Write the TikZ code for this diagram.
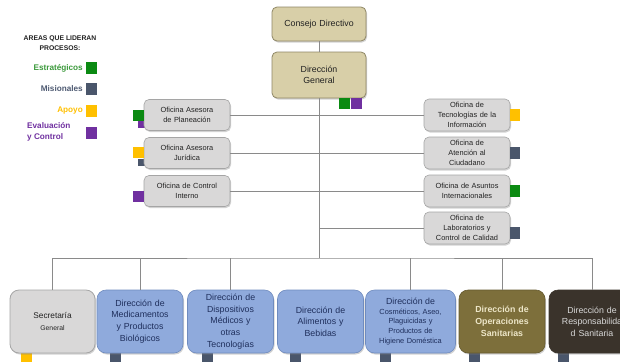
\documentclass[tikz,border=0pt]{standalone}
\usepackage{fontspec}
\setmainfont{Liberation Sans}
\usetikzlibrary{shadows}
\definecolor{linegray}{HTML}{8A8A8A}
\definecolor{beigec}{HTML}{D8CFA8}
\definecolor{beigeb}{HTML}{8F8766}
\definecolor{grayc}{HTML}{D9D8D8}
\definecolor{grayb}{HTML}{A5A5A5}
\definecolor{bluec}{HTML}{8FAADC}
\definecolor{blueb}{HTML}{6F8BBE}
\definecolor{bluetxt}{HTML}{1F2F5C}
\definecolor{olivec}{HTML}{7D6F3B}
\definecolor{olivetxt}{HTML}{EDE6C8}
\definecolor{darkc}{HTML}{3A332B}
\definecolor{darktxt}{HTML}{D8D8D8}
\definecolor{txtdark}{HTML}{222222}
\definecolor{mgreen}{HTML}{0B8A12}
\definecolor{mslate}{HTML}{4A566B}
\definecolor{myellow}{HTML}{FFC000}
\definecolor{mpurple}{HTML}{7030A0}
\definecolor{lgreen}{HTML}{3C9A3C}
\definecolor{lslate}{HTML}{4F5B73}
\begin{document}
\begin{tikzpicture}[x=1pt,y=-1pt,
  conn/.style={draw=linegray, line width=1pt},
  box/.style={rectangle, rounded corners=5pt, align=center, inner sep=1pt,
    drop shadow={shadow xshift=1pt,shadow yshift=-1.5pt,opacity=0.35}},
  beige/.style={box, fill=beigec, draw=beigeb, line width=0.8pt, minimum width=94pt,
    text width=90pt, font=\fontsize{8.8}{11.5}\selectfont, text=txtdark},
  office/.style={box, fill=grayc, draw=grayb, line width=0.6pt, minimum height=31pt,
    text width=84pt, font=\fontsize{7.4}{9.9}\selectfont, text=txtdark},
  dirbox/.style={box, rounded corners=9pt, minimum height=63pt, text width=84pt,
    font=\fontsize{8.8}{11.7}\selectfont},
  bluebox/.style={dirbox, fill=bluec, draw=blueb, line width=0.6pt, text=bluetxt},
  legtxt/.style={font=\bfseries\fontsize{8.2}{11}\selectfont, inner sep=0pt}
]
\useasboundingbox (0,0) rectangle (620,362);
\fill[white] (0,0) rectangle (620,362);

% bottom markers (under boxes)
\fill[myellow] (21,350) rectangle ++(11,12);
\fill[mslate] (110,350) rectangle ++(11,12);
\fill[mslate] (202,350) rectangle ++(11,12);
\fill[mslate] (290,350) rectangle ++(11,12);
\fill[mslate] (380,350) rectangle ++(11,12);
\fill[mslate] (469,350) rectangle ++(11,12);
\fill[mslate] (558,350) rectangle ++(11,12);

% small markers behind offices
\fill[mpurple] (138,121) rectangle ++(8,7);
\fill[mslate] (138,159) rectangle ++(8,7);

% top
\node[beige, minimum height=34pt] (cd) at (319,24) {Consejo Directivo};
\node[beige, minimum height=46pt] (dg) at (319,75) {Dirección\\General};

% left offices
\node[office, minimum width=85pt] (op) at (187,115) {Oficina Asesora\\de Planeación};
\node[office, minimum width=85pt] (oj) at (187,153) {Oficina Asesora\\Jurídica};
\node[office, minimum width=85pt] (oc) at (187,191) {Oficina de Control\\Interno};

% right offices
\node[office, minimum width=86pt, minimum height=32pt] (ot) at (467,115) {Oficina de\\Tecnologías de la\\Información};
\node[office, minimum width=86pt, minimum height=32pt] (oa) at (467,153) {Oficina de\\Atención al\\Ciudadano};
\node[office, minimum width=86pt, minimum height=32pt] (oi) at (467,191) {Oficina de Asuntos\\Internacionales};
\node[office, minimum width=86pt, minimum height=32pt] (ol) at (467,228) {Oficina de\\Laboratorios y\\Control de Calidad};

% bottom row
\node[dirbox, fill=grayc, draw=grayb, line width=0.8pt, minimum width=85pt, text width=80pt, text=txtdark] (sg) at (52.5,321.5)
  {{\fontsize{8.3}{10.5}\selectfont Secretaría}\\{\fontsize{6.8}{8}\selectfont General}};
\node[bluebox, minimum width=86pt] (dm) at (140,321.5) {Dirección de\\Medicamentos\\y Productos\\Biológicos};
\node[bluebox, minimum width=85pt] (dd) at (230.5,321.5) {Dirección de\\Dispositivos\\Médicos y\\otras\\Tecnologías};
\node[bluebox, minimum width=85pt] (da) at (320.5,321.5) {Dirección de\\Alimentos y\\Bebidas};
\node[bluebox, minimum width=89pt, text width=88pt, font=\fontsize{7.4}{9.7}\selectfont] (dc) at (410.5,321.5)
  {{\fontsize{8.8}{10.2}\selectfont Dirección de}\\Cosméticos, Aseo,\\Plaguicidas y\\Productos de\\Higiene Doméstica};
\node[dirbox, fill=olivec, draw=olivec!80!black, line width=0.6pt, minimum width=86pt, text=olivetxt,
  font=\bfseries\fontsize{8.8}{11.7}\selectfont] (dos) at (502,321.5) {Dirección de\\Operaciones\\Sanitarias};
\node[dirbox, fill=darkc, draw=darkc, line width=0.6pt, minimum width=86pt, text=darktxt] (drs) at (592,321.5)
  {Dirección de\\Responsabilida\\d Sanitaria};

% connectors
\coordinate (bus) at (319,258);
\draw[conn] (cd.south) -- (dg.north);
\draw[conn] (dg.south) -- (bus);
\draw[conn] (sg.north) |- (bus) -| (drs.north);
\draw[conn] (dm.north) -- (dm.north |- bus);
\draw[conn] (dd.north) -- (dd.north |- bus);
\draw[conn] (dc.north) -- (dc.north |- bus);
\draw[conn] (dos.north) -- (dos.north |- bus);
\draw[conn] (op.east) -- (ot.west);
\draw[conn] (oj.east) -- (oa.west);
\draw[conn] (oc.east) -- (oi.west);
\draw[conn] (ol.west) -- (ol.west -| bus);

% markers
\fill[mgreen] (339,98) rectangle ++(11,11);
\fill[mpurple] (351,98) rectangle ++(11,11);
\fill[mgreen] (133,110) rectangle ++(11,11);
\fill[myellow] (133,147) rectangle ++(11,11);
\fill[mpurple] (133,191) rectangle ++(11,11);
\fill[myellow] (510,109) rectangle ++(10,12);
\fill[mslate] (510,147) rectangle ++(10,12);
\fill[mgreen] (510,185) rectangle ++(10,12);
\fill[mslate] (510,227) rectangle ++(10,12);

% legend
\node[font=\bfseries\fontsize{6.8}{9.5}\selectfont, align=center, text=txtdark, inner sep=0pt] (lh) at (60,43)
  {AREAS QUE LIDERAN\\PROCESOS:};
\node[legtxt, text=lgreen, anchor=east] (le) at (83,68) {Estratégicos};
\node[legtxt, text=lslate, anchor=east] (lm) at (83,89) {Misionales};
\node[legtxt, text=myellow, anchor=east] (la) at (83,111) {Apoyo};
\node[legtxt, text=mpurple, anchor=west, align=left] (lv) at (27,132) {Evaluación\\y Control};
\fill[mgreen] (86,62) rectangle ++(11,12);
\fill[mslate] (86,83) rectangle ++(11,12);
\fill[myellow] (86,105) rectangle ++(11,12);
\fill[mpurple] (86,127) rectangle ++(11,12);
\end{tikzpicture}
\end{document}
